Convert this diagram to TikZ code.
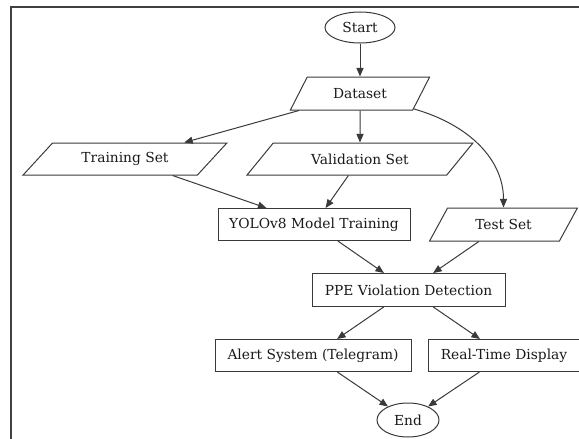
\documentclass[tikz,border=0pt]{standalone}
\usepackage{fontspec}
\setmainfont{DejaVu Serif}
\usetikzlibrary{shapes.geometric,arrows.meta}
\definecolor{ln}{HTML}{3a3a3a}
\begin{document}
\begin{tikzpicture}[x=1pt,y=-1pt,
  every node/.style={font=\fontsize{13.8}{16}\selectfont, text=black!90, draw=ln, line width=1pt, inner sep=0pt},
  term/.style={ellipse},
  proc/.style={rectangle, minimum height=32pt},
  io/.style={trapezium, trapezium stretches=true, minimum height=33pt},
  conn/.style={draw=ln, line width=1pt, -{Triangle[length=8.5pt,width=7pt]}}]
\useasboundingbox (0,0) rectangle (579,439);
\draw[line width=1.6pt, draw=black!75] (11,439) -- (11,7) -- (579,7);
\node[term, minimum width=70pt, minimum height=31pt] (start) at (360,27.5) {Start};
\node[io, minimum width=140pt, trapezium left angle=50, trapezium right angle=130] (dataset) at (360,93.5) {Dataset};
\node[io, minimum width=204pt, minimum height=32pt, trapezium left angle=37, trapezium right angle=143] (training) at (125,159) {Training Set};
\node[io, minimum width=226pt, minimum height=32pt, trapezium left angle=36, trapezium right angle=144] (validation) at (360,159) {Validation Set};
\node[proc, minimum width=192pt] (yolo) at (314,224.5) {YOLOv8 Model Training};
\node[io, minimum width=149pt, trapezium left angle=49, trapezium right angle=131] (test) at (503.5,224.5) {Test Set};
\node[proc, minimum width=193pt, minimum height=33pt] (ppe) at (408.5,290) {PPE Violation Detection};
\node[proc, minimum width=196pt] (alert) at (313,355.5) {Alert System (Telegram)};
\node[proc, minimum width=151pt] (real) at (504,355.5) {Real-Time Display};
\node[term, minimum width=62pt, minimum height=34pt] (end) at (408,420) {End};
\draw[conn] (start) -- (dataset);
\draw[conn] (dataset) -- (training);
\draw[conn] (dataset) -- (validation);
\draw[conn] (dataset) .. controls (470,125) and (503.5,160) .. (test);
\draw[conn] (training) -- (yolo);
\draw[conn] (validation) -- (yolo);
\draw[conn] (yolo) -- (ppe);
\draw[conn] (test) -- (ppe);
\draw[conn] (ppe) -- (alert);
\draw[conn] (ppe) -- (real);
\draw[conn] (alert) -- (end);
\draw[conn] (real) -- (end);
\end{tikzpicture}
\end{document}
